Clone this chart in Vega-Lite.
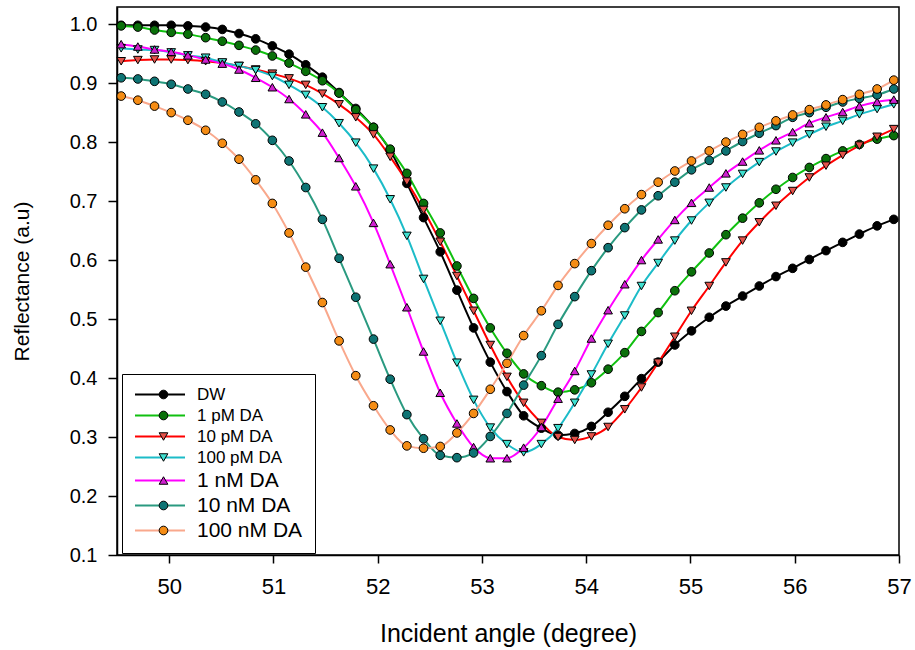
{
  "$schema": "https://vega.github.io/schema/vega-lite/v6.json",
  "width": 782,
  "height": 548,
  "autosize": {"type": "none"},
  "padding": {"left": 117, "top": 7, "right": 16, "bottom": 95},
  "background": "white",
  "config": {"view": {"stroke": "black", "strokeWidth": 1.5}, "font": "Liberation Sans"},
  "data": {"values": [
    {"x": 49.54, "DW": 0.998, "1 pM DA": 0.997, "10 pM DA": 0.937, "100 pM DA": 0.959, "1 nM DA": 0.966, "10 nM DA": 0.909, "100 nM DA": 0.878},
    {"x": 49.70, "DW": 0.998, "1 pM DA": 0.995, "10 pM DA": 0.939, "100 pM DA": 0.957, "1 nM DA": 0.962, "10 nM DA": 0.907, "100 nM DA": 0.871},
    {"x": 49.86, "DW": 0.998, "1 pM DA": 0.990, "10 pM DA": 0.940, "100 pM DA": 0.956, "1 nM DA": 0.957, "10 nM DA": 0.903, "100 nM DA": 0.861},
    {"x": 50.02, "DW": 0.998, "1 pM DA": 0.986, "10 pM DA": 0.940, "100 pM DA": 0.952, "1 nM DA": 0.953, "10 nM DA": 0.898, "100 nM DA": 0.850},
    {"x": 50.18, "DW": 0.997, "1 pM DA": 0.983, "10 pM DA": 0.939, "100 pM DA": 0.947, "1 nM DA": 0.947, "10 nM DA": 0.890, "100 nM DA": 0.837},
    {"x": 50.35, "DW": 0.995, "1 pM DA": 0.977, "10 pM DA": 0.937, "100 pM DA": 0.943, "1 nM DA": 0.940, "10 nM DA": 0.881, "100 nM DA": 0.820},
    {"x": 50.51, "DW": 0.991, "1 pM DA": 0.971, "10 pM DA": 0.934, "100 pM DA": 0.935, "1 nM DA": 0.933, "10 nM DA": 0.868, "100 nM DA": 0.798},
    {"x": 50.67, "DW": 0.984, "1 pM DA": 0.964, "10 pM DA": 0.929, "100 pM DA": 0.929, "1 nM DA": 0.923, "10 nM DA": 0.851, "100 nM DA": 0.771},
    {"x": 50.83, "DW": 0.975, "1 pM DA": 0.956, "10 pM DA": 0.923, "100 pM DA": 0.922, "1 nM DA": 0.909, "10 nM DA": 0.831, "100 nM DA": 0.736},
    {"x": 50.99, "DW": 0.963, "1 pM DA": 0.946, "10 pM DA": 0.916, "100 pM DA": 0.912, "1 nM DA": 0.893, "10 nM DA": 0.803, "100 nM DA": 0.696},
    {"x": 51.15, "DW": 0.949, "1 pM DA": 0.934, "10 pM DA": 0.908, "100 pM DA": 0.897, "1 nM DA": 0.873, "10 nM DA": 0.768, "100 nM DA": 0.646},
    {"x": 51.31, "DW": 0.931, "1 pM DA": 0.920, "10 pM DA": 0.897, "100 pM DA": 0.880, "1 nM DA": 0.847, "10 nM DA": 0.723, "100 nM DA": 0.588},
    {"x": 51.47, "DW": 0.910, "1 pM DA": 0.904, "10 pM DA": 0.882, "100 pM DA": 0.859, "1 nM DA": 0.816, "10 nM DA": 0.669, "100 nM DA": 0.528},
    {"x": 51.63, "DW": 0.884, "1 pM DA": 0.883, "10 pM DA": 0.864, "100 pM DA": 0.832, "1 nM DA": 0.773, "10 nM DA": 0.603, "100 nM DA": 0.463},
    {"x": 51.79, "DW": 0.857, "1 pM DA": 0.855, "10 pM DA": 0.842, "100 pM DA": 0.799, "1 nM DA": 0.725, "10 nM DA": 0.537, "100 nM DA": 0.404},
    {"x": 51.96, "DW": 0.825, "1 pM DA": 0.825, "10 pM DA": 0.813, "100 pM DA": 0.755, "1 nM DA": 0.663, "10 nM DA": 0.466, "100 nM DA": 0.353},
    {"x": 52.12, "DW": 0.786, "1 pM DA": 0.788, "10 pM DA": 0.775, "100 pM DA": 0.703, "1 nM DA": 0.593, "10 nM DA": 0.398, "100 nM DA": 0.312},
    {"x": 52.28, "DW": 0.730, "1 pM DA": 0.747, "10 pM DA": 0.733, "100 pM DA": 0.641, "1 nM DA": 0.520, "10 nM DA": 0.338, "100 nM DA": 0.285},
    {"x": 52.44, "DW": 0.672, "1 pM DA": 0.696, "10 pM DA": 0.685, "100 pM DA": 0.568, "1 nM DA": 0.445, "10 nM DA": 0.297, "100 nM DA": 0.281},
    {"x": 52.60, "DW": 0.614, "1 pM DA": 0.646, "10 pM DA": 0.631, "100 pM DA": 0.497, "1 nM DA": 0.375, "10 nM DA": 0.269, "100 nM DA": 0.284},
    {"x": 52.76, "DW": 0.549, "1 pM DA": 0.590, "10 pM DA": 0.573, "100 pM DA": 0.426, "1 nM DA": 0.323, "10 nM DA": 0.265, "100 nM DA": 0.307},
    {"x": 52.92, "DW": 0.485, "1 pM DA": 0.535, "10 pM DA": 0.514, "100 pM DA": 0.363, "1 nM DA": 0.283, "10 nM DA": 0.273, "100 nM DA": 0.340},
    {"x": 53.08, "DW": 0.427, "1 pM DA": 0.485, "10 pM DA": 0.456, "100 pM DA": 0.316, "1 nM DA": 0.264, "10 nM DA": 0.301, "100 nM DA": 0.381},
    {"x": 53.24, "DW": 0.377, "1 pM DA": 0.442, "10 pM DA": 0.402, "100 pM DA": 0.288, "1 nM DA": 0.264, "10 nM DA": 0.340, "100 nM DA": 0.425},
    {"x": 53.40, "DW": 0.336, "1 pM DA": 0.407, "10 pM DA": 0.358, "100 pM DA": 0.274, "1 nM DA": 0.282, "10 nM DA": 0.388, "100 nM DA": 0.472},
    {"x": 53.57, "DW": 0.315, "1 pM DA": 0.387, "10 pM DA": 0.324, "100 pM DA": 0.288, "1 nM DA": 0.317, "10 nM DA": 0.438, "100 nM DA": 0.514},
    {"x": 53.73, "DW": 0.303, "1 pM DA": 0.376, "10 pM DA": 0.300, "100 pM DA": 0.315, "1 nM DA": 0.365, "10 nM DA": 0.491, "100 nM DA": 0.557},
    {"x": 53.89, "DW": 0.306, "1 pM DA": 0.380, "10 pM DA": 0.295, "100 pM DA": 0.358, "1 nM DA": 0.412, "10 nM DA": 0.538, "100 nM DA": 0.594},
    {"x": 54.05, "DW": 0.318, "1 pM DA": 0.392, "10 pM DA": 0.301, "100 pM DA": 0.406, "1 nM DA": 0.467, "10 nM DA": 0.582, "100 nM DA": 0.628},
    {"x": 54.21, "DW": 0.342, "1 pM DA": 0.415, "10 pM DA": 0.317, "100 pM DA": 0.458, "1 nM DA": 0.515, "10 nM DA": 0.621, "100 nM DA": 0.659},
    {"x": 54.37, "DW": 0.369, "1 pM DA": 0.443, "10 pM DA": 0.347, "100 pM DA": 0.506, "1 nM DA": 0.559, "10 nM DA": 0.655, "100 nM DA": 0.687},
    {"x": 54.53, "DW": 0.399, "1 pM DA": 0.479, "10 pM DA": 0.384, "100 pM DA": 0.556, "1 nM DA": 0.600, "10 nM DA": 0.685, "100 nM DA": 0.711},
    {"x": 54.69, "DW": 0.427, "1 pM DA": 0.511, "10 pM DA": 0.426, "100 pM DA": 0.595, "1 nM DA": 0.635, "10 nM DA": 0.709, "100 nM DA": 0.732},
    {"x": 54.85, "DW": 0.456, "1 pM DA": 0.548, "10 pM DA": 0.470, "100 pM DA": 0.633, "1 nM DA": 0.668, "10 nM DA": 0.732, "100 nM DA": 0.751},
    {"x": 55.01, "DW": 0.480, "1 pM DA": 0.580, "10 pM DA": 0.514, "100 pM DA": 0.667, "1 nM DA": 0.697, "10 nM DA": 0.753, "100 nM DA": 0.768},
    {"x": 55.18, "DW": 0.503, "1 pM DA": 0.612, "10 pM DA": 0.556, "100 pM DA": 0.697, "1 nM DA": 0.723, "10 nM DA": 0.769, "100 nM DA": 0.785},
    {"x": 55.34, "DW": 0.522, "1 pM DA": 0.643, "10 pM DA": 0.596, "100 pM DA": 0.723, "1 nM DA": 0.747, "10 nM DA": 0.785, "100 nM DA": 0.800},
    {"x": 55.50, "DW": 0.539, "1 pM DA": 0.671, "10 pM DA": 0.633, "100 pM DA": 0.746, "1 nM DA": 0.767, "10 nM DA": 0.801, "100 nM DA": 0.813},
    {"x": 55.66, "DW": 0.556, "1 pM DA": 0.697, "10 pM DA": 0.664, "100 pM DA": 0.766, "1 nM DA": 0.786, "10 nM DA": 0.815, "100 nM DA": 0.825},
    {"x": 55.82, "DW": 0.572, "1 pM DA": 0.720, "10 pM DA": 0.692, "100 pM DA": 0.784, "1 nM DA": 0.803, "10 nM DA": 0.828, "100 nM DA": 0.836},
    {"x": 55.98, "DW": 0.586, "1 pM DA": 0.740, "10 pM DA": 0.717, "100 pM DA": 0.799, "1 nM DA": 0.817, "10 nM DA": 0.842, "100 nM DA": 0.846},
    {"x": 56.14, "DW": 0.601, "1 pM DA": 0.757, "10 pM DA": 0.740, "100 pM DA": 0.813, "1 nM DA": 0.832, "10 nM DA": 0.850, "100 nM DA": 0.855},
    {"x": 56.30, "DW": 0.616, "1 pM DA": 0.772, "10 pM DA": 0.760, "100 pM DA": 0.826, "1 nM DA": 0.842, "10 nM DA": 0.859, "100 nM DA": 0.863},
    {"x": 56.46, "DW": 0.630, "1 pM DA": 0.785, "10 pM DA": 0.778, "100 pM DA": 0.836, "1 nM DA": 0.851, "10 nM DA": 0.868, "100 nM DA": 0.872},
    {"x": 56.62, "DW": 0.644, "1 pM DA": 0.796, "10 pM DA": 0.794, "100 pM DA": 0.847, "1 nM DA": 0.861, "10 nM DA": 0.874, "100 nM DA": 0.881},
    {"x": 56.79, "DW": 0.658, "1 pM DA": 0.805, "10 pM DA": 0.809, "100 pM DA": 0.856, "1 nM DA": 0.868, "10 nM DA": 0.880, "100 nM DA": 0.890},
    {"x": 56.95, "DW": 0.669, "1 pM DA": 0.811, "10 pM DA": 0.822, "100 pM DA": 0.864, "1 nM DA": 0.872, "10 nM DA": 0.890, "100 nM DA": 0.905}
  ]},
  "transform": [
    {"fold": ["DW", "1 pM DA", "10 pM DA", "100 pM DA", "1 nM DA", "10 nM DA", "100 nM DA"], "as": ["series", "R"]}
  ],
  "encoding": {
    "x": {
      "field": "x", "type": "quantitative",
      "scale": {"domain": [49.5, 57], "nice": false, "zero": false},
      "axis": {
        "values": [50, 51, 52, 53, 54, 55, 56, 57],
        "title": "Incident angle (degree)",
        "grid": false,
        "domainColor": "black", "domainWidth": 1.5,
        "tickColor": "black", "tickWidth": 1.5, "tickSize": 8,
        "labelFontSize": 22, "labelColor": "black", "labelPadding": 13, "labelFont": "Liberation Sans",
        "labelFlush": false, "labelOverlap": false,
        "titleFontSize": 25, "titleFontWeight": "normal", "titleColor": "black", "titleFont": "Liberation Sans",
        "titleY": 78, "titleBaseline": "middle"
      }
    },
    "y": {
      "field": "R", "type": "quantitative",
      "scale": {"domain": [0.1, 1.029], "nice": false, "zero": false},
      "axis": {
        "values": [0.1, 0.2, 0.3, 0.4, 0.5, 0.6, 0.7, 0.8, 0.9, 1.0],
        "format": ".1f",
        "title": "Reflectance (a.u)",
        "grid": false,
        "domainColor": "black", "domainWidth": 1.5,
        "tickColor": "black", "tickWidth": 1.5, "tickSize": 9,
        "labelFontSize": 20, "labelColor": "black", "labelPadding": 11, "labelFont": "Liberation Sans",
        "labelFlush": false, "labelOverlap": false,
        "titleFontSize": 21, "titleFontWeight": "normal", "titleColor": "black", "titleFont": "Liberation Sans",
        "titleX": -95, "titleY": 274, "titleBaseline": "middle", "titleAngle": 270
      }
    }
  },
  "layer": [
    {
      "mark": {"type": "line", "interpolate": "monotone", "strokeWidth": 2},
      "encoding": {
        "color": {
          "field": "series", "type": "nominal",
          "scale": {
            "domain": ["DW", "1 pM DA", "10 pM DA", "100 pM DA", "1 nM DA", "10 nM DA", "100 nM DA"],
            "range": ["#000000", "#10c010", "#ff0000", "#1cbcc8", "#ff00ff", "#2a9a80", "#f9a88c"]
          },
          "legend": {
            "orient": "none", "legendX": 5, "legendY": 367, "title": null,
            "symbolType": "stroke", "symbolSize": 2500, "symbolStrokeWidth": 2,
            "clipHeight": 17, "rowPadding": 3, "padding": 12,
            "strokeColor": "black", "fillColor": "white",
            "labelFont": "Liberation Sans", "labelColor": "black", "labelOffset": 11,
            "labelFontSize": {"expr": "indexof(['1 nM DA','10 nM DA','100 nM DA'], datum.label) >= 0 ? 21 : 17"}
          }
        }
      }
    },
    {
      "mark": {"type": "point", "filled": true, "size": 75, "stroke": "black", "strokeWidth": 1, "opacity": 1},
      "encoding": {
        "fill": {
          "field": "series", "type": "nominal",
          "sort": ["DW", "1 pM DA", "10 pM DA", "100 pM DA", "1 nM DA", "10 nM DA", "100 nM DA"],
          "scale": {"range": ["#000000", "#0a700a", "#e4524a", "#3ee0d0", "#d020d0", "#0e7474", "#f58c14"]},
          "legend": {
            "orient": "none", "legendX": 5, "legendY": 367, "title": null,
            "symbolType": {"expr": "indexof(['10 pM DA','100 pM DA'], datum.label) >= 0 ? 'triangle-down' : (datum.label == '1 nM DA' ? 'triangle-up' : 'circle')"},
            "symbolSize": 75, "symbolStrokeColor": "black", "symbolStrokeWidth": 1, "symbolOffset": 21,
            "clipHeight": 17, "rowPadding": 3, "padding": 12,
            "labelFont": "Liberation Sans", "labelOffset": 2, "labelOpacity": 0,
            "labelExpr": "' '",
            "labelFontSize": {"expr": "indexof(['1 nM DA','10 nM DA','100 nM DA'], datum.label) >= 0 ? 21 : 17"}
          }
        },
        "shape": {
          "field": "series", "type": "nominal",
          "sort": ["DW", "1 pM DA", "10 pM DA", "100 pM DA", "1 nM DA", "10 nM DA", "100 nM DA"],
          "scale": {"range": ["circle", "circle", "triangle-down", "triangle-down", "triangle-up", "circle", "circle"]},
          "legend": null
        }
      }
    }
  ]
}
